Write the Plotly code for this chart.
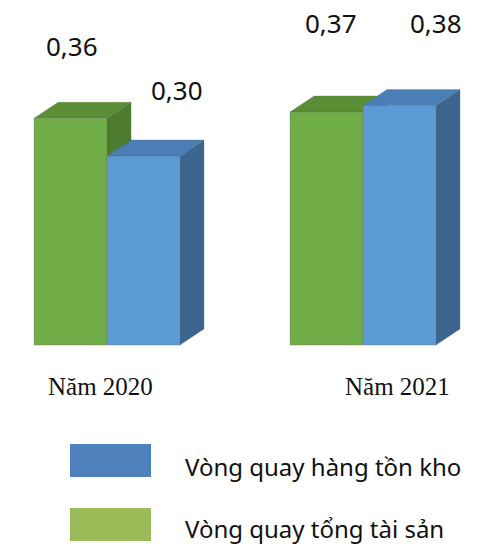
import plotly.graph_objects as go

# ---- data ----
categories = ["Năm 2020", "Năm 2021"]
vong_quay_tong_tai_san = [0.36, 0.37]    # green series
vong_quay_hang_ton_kho = [0.30, 0.38]    # blue series
value_labels_tts = ["0,36", "0,37"]
value_labels_htk = ["0,30", "0,38"]
legend_names = ["Vòng quay hàng tồn kho", "Vòng quay tổng tài sản"]

# ---- style ----
W = 0.285      # bar front width (x units)
DX = 0.094     # 3D depth in x units
DY = 0.0254    # 3D depth in y units
GREEN_FRONT, GREEN_TOP, GREEN_SIDE = "#70AD47", "#5A8E36", "#4E7C2E"
BLUE_FRONT, BLUE_TOP, BLUE_SIDE = "#5B9BD5", "#4A7EB5", "#3D6590"
LEG_BLUE, LEG_GREEN = "#4F81BD", "#9BBB59"

xs = list(range(len(categories)))

fig = go.Figure()
fig.add_trace(go.Bar(x=xs, y=vong_quay_tong_tai_san, width=W, offset=-W,
                     marker=dict(color=GREEN_FRONT, line=dict(color="rgba(110,110,110,0.5)", width=0.8)),
                     name=legend_names[1], showlegend=False, hoverinfo="skip"))
fig.add_trace(go.Bar(x=xs, y=vong_quay_hang_ton_kho, width=W, offset=0,
                     marker=dict(color=BLUE_FRONT, line=dict(color="rgba(110,110,110,0.5)", width=0.8)),
                     name=legend_names[0], showlegend=False, hoverinfo="skip"))

shapes = []
for i in xs:
    for (v, off, top_c, side_c) in [
        (vong_quay_tong_tai_san[i], -W, GREEN_TOP, GREEN_SIDE),
        (vong_quay_hang_ton_kho[i], 0.0, BLUE_TOP, BLUE_SIDE),
    ]:
        x0 = i + off
        x1 = x0 + W
        top = f"M {x0},{v} L {x1},{v} L {x1+DX},{v+DY} L {x0+DX},{v+DY} Z"
        side = f"M {x1},0 L {x1},{v} L {x1+DX},{v+DY} L {x1+DX},{DY} Z"
        shapes.append(dict(type="path", path=side, xref="x", yref="y", layer="below",
                           fillcolor=side_c, line=dict(width=0.6, color="rgba(90,90,90,0.4)")))
        shapes.append(dict(type="path", path=top, xref="x", yref="y", layer="below",
                           fillcolor=top_c, line=dict(width=0.6, color="rgba(90,90,90,0.4)")))

# legend swatches
shapes.append(dict(type="rect", xref="paper", yref="paper", x0=70/499, x1=151/499,
                   y0=1-477/547, y1=1-444/547, fillcolor=LEG_BLUE, line=dict(width=0)))
shapes.append(dict(type="rect", xref="paper", yref="paper", x0=70/499, x1=151/499,
                   y0=1-541/547, y1=1-508/547, fillcolor=LEG_GREEN, line=dict(width=0)))

annotations = []
label_font = dict(family="Noto Sans", size=26, color="#111111")
# value labels (pixel shifts from the front-face top centre)
shift_tts = [(1, 72), (4, 89)]
shift_htk = [(34, 66), (37, 83)]
for i in xs:
    annotations.append(dict(x=i - W/2, y=vong_quay_tong_tai_san[i], xref="x", yref="y",
                            text=value_labels_tts[i], showarrow=False, font=label_font,
                            xshift=shift_tts[i][0], yshift=shift_tts[i][1]))
    annotations.append(dict(x=i + W/2, y=vong_quay_hang_ton_kho[i], xref="x", yref="y",
                            text=value_labels_htk[i], showarrow=False, font=label_font,
                            xshift=shift_htk[i][0], yshift=shift_htk[i][1]))
# category labels
cat_xshift = [-7, 34]
for i in xs:
    annotations.append(dict(x=i, y=0, xref="x", yref="y", text=categories[i], showarrow=False,
                            font=dict(family="Liberation Serif", size=25, color="#111111"),
                            xshift=cat_xshift[i], yshift=-41))
# legend texts
leg_font = dict(family="Noto Sans", size=24, color="#111111")
annotations.append(dict(x=183/499, y=1-466/547, xref="paper", yref="paper", text=legend_names[0],
                        showarrow=False, xanchor="left", yanchor="middle", font=leg_font))
annotations.append(dict(x=183/499, y=1-528/547, xref="paper", yref="paper", text=legend_names[1],
                        showarrow=False, xanchor="left", yanchor="middle", font=leg_font))

fig.update_layout(
    width=499, height=547,
    margin=dict(l=0, r=0, t=0, b=0),
    paper_bgcolor="white", plot_bgcolor="white",
    barmode="overlay",
    showlegend=False,
    shapes=shapes, annotations=annotations,
    xaxis=dict(range=[-107/256, 392/256], visible=False, fixedrange=True),
    yaxis=dict(range=[-202/630, 345/630], visible=False, fixedrange=True),
)

fig.write_html("out.html", config={"displayModeBar": False},
               post_script="document.body.style.margin='0';document.body.style.padding='0';"
                           "document.documentElement.style.overflow='hidden';")
